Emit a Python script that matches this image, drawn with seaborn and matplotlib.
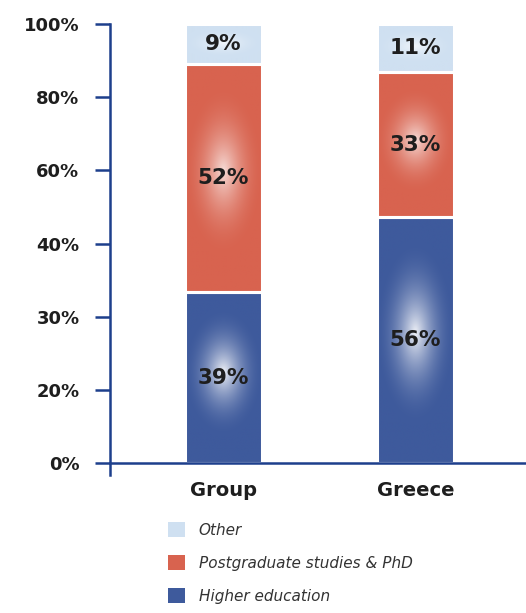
import numpy as np
import pandas as pd
import matplotlib
matplotlib.use("Agg")
import matplotlib.pyplot as plt
import seaborn as sns
from matplotlib.patches import Patch

# Education level shares by region (percent)
regions = ["Group", "Greece"]
higher_education = [39, 56]
postgraduate_phd = [52, 33]
other = [9, 11]
series_names = ["Higher education", "Postgraduate studies & PhD", "Other"]
series_colors = ["#3e5a9c", "#d8634f", "#cfe0f1"]
ytick_labels = ["0%", "20%", "30%", "40%", "60%", "80%", "100%"]

AXIS_COLOR = "#1d3f8c"
TEXT_COLOR = "#1e1e1e"

sns.set_theme(style="white")
plt.rcParams["font.family"] = ["DejaVu Sans"]
plt.rcParams["font.weight"] = "bold"

fig = plt.figure(figsize=(5.26, 6.13), dpi=100)
ax = fig.add_axes([110 / 526, 138 / 613, 416 / 526, (475 - 24) / 613])

layers = [higher_education, postgraduate_phd, other]
glow_strength = [0.92, 0.78, 0.7]
bottom = np.zeros(len(regions))
segments = []
for name, values, color, strength in zip(series_names, layers, series_colors, glow_strength):
    df = pd.DataFrame({"region": regions, "share": values})
    n_before = len(ax.patches)
    sns.barplot(data=df, x="region", y="share", color=color, width=0.4,
                bottom=bottom, ax=ax, edgecolor="white", linewidth=2.2,
                saturation=1, errorbar=None)
    for p, v in zip(ax.patches[n_before:], values):
        segments.append((p, color, v, strength))
    bottom = bottom + np.array(values)


def add_glow(ax, patch, color, strength):
    """Fill a bar segment with a soft radial highlight near its centre."""
    x0, y0 = patch.get_x(), patch.get_y()
    w, h = patch.get_width(), patch.get_height()
    nx, ny = 80, 240
    u = np.linspace(-1, 1, nx)
    v = np.linspace(-1, 1, ny)
    U, V = np.meshgrid(u, v)
    r = np.sqrt((U / 1.05) ** 2 + ((V - 0.06) / 0.75) ** 2)
    g = strength * np.clip(1 - r, 0, 1) ** 2.0
    base = np.array(matplotlib.colors.to_rgb(color))
    img = np.ones((ny, nx, 4))
    img[..., :3] = base * (1 - g[..., None]) + g[..., None]
    z = patch.get_zorder()
    im = ax.imshow(img, extent=[x0, x0 + w, y0, y0 + h], origin="lower",
                   aspect="auto", interpolation="bilinear", zorder=z + 0.1)
    im.set_clip_path(patch)
    patch.set_facecolor("none")
    patch.set_zorder(z + 0.2)


for patch, color, value, strength in segments:
    add_glow(ax, patch, color, strength)
    cx = patch.get_x() + patch.get_width() / 2
    cy = patch.get_y() + patch.get_height() / 2
    ax.text(cx, cy, f"{value}%", ha="center", va="center", fontsize=15.5,
            fontweight="bold", color=TEXT_COLOR, zorder=6)

ax.set_xlim(-0.591, 1.576)
ax.set_ylim(-2.7, 100)
ax.set_xlabel("")
ax.set_ylabel("")

ax.set_xticks(range(len(regions)))
ax.set_xticklabels(regions, fontweight="bold")
ax.set_yticks(np.linspace(0, 100, 7))
ax.set_yticklabels(ytick_labels, fontweight="bold")

ax.tick_params(axis="y", left=True, length=11, width=1.8, color=AXIS_COLOR,
               pad=11, labelsize=13, labelcolor=TEXT_COLOR)
ax.tick_params(axis="x", bottom=False, length=0, pad=13, labelsize=14,
               labelcolor=TEXT_COLOR)

for side in ["top", "right"]:
    ax.spines[side].set_visible(False)
for side in ["left", "bottom"]:
    ax.spines[side].set_color(AXIS_COLOR)
    ax.spines[side].set_linewidth(1.8)
    ax.spines[side].set_zorder(5)
ax.spines["bottom"].set_position(("data", 0))

handles = [Patch(facecolor=series_colors[i], edgecolor="none", label=series_names[i])
           for i in [2, 1, 0]]
leg = fig.legend(handles=handles, loc="upper left",
                 bbox_to_anchor=(168 / 526, 1 - 522 / 613), frameon=False,
                 prop={"style": "italic", "size": 11, "weight": "normal"},
                 handlelength=1.1, handleheight=1.1, labelspacing=1.15,
                 handletextpad=0.9, borderpad=0, borderaxespad=0)
for t in leg.get_texts():
    t.set_color("#333333")

fig.savefig("out.png", dpi=100)
